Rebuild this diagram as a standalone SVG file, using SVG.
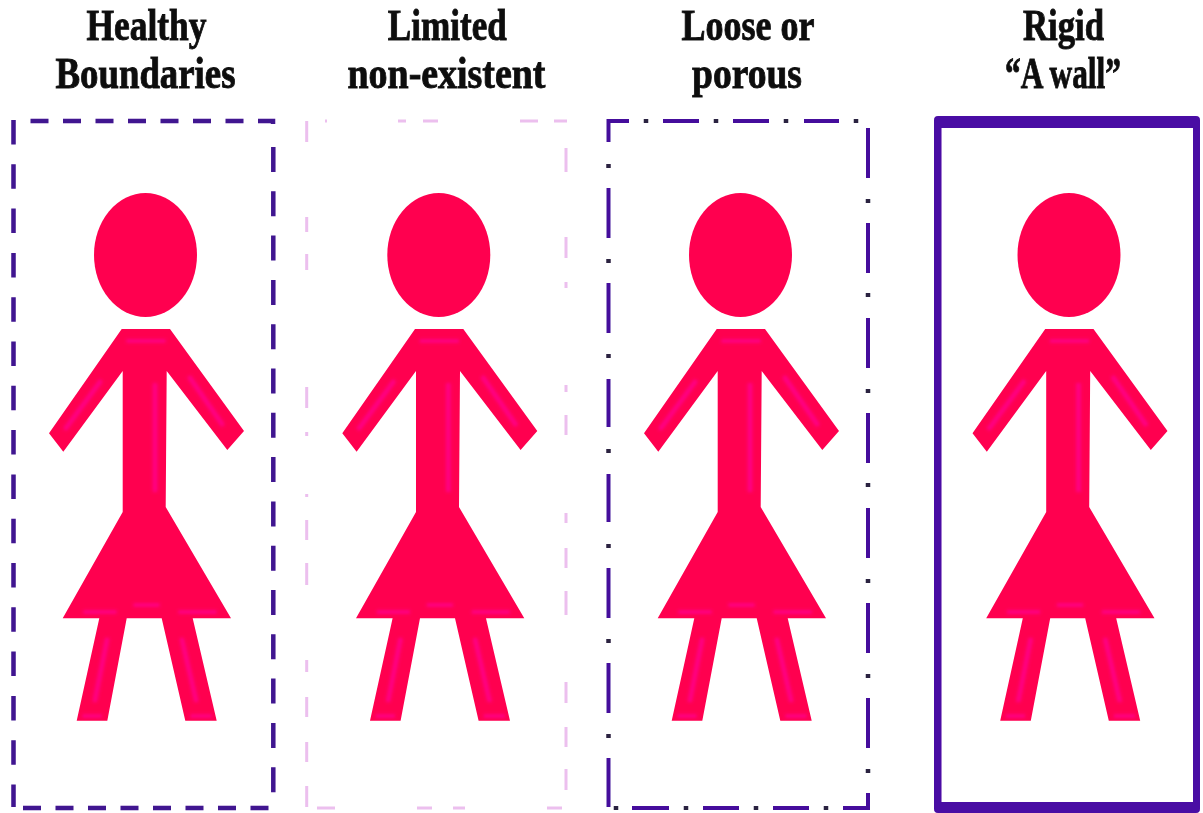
<svg xmlns="http://www.w3.org/2000/svg" width="1203" height="813" viewBox="0 0 1203 813">
<style>
.t{font-family:"Liberation Serif",serif;font-weight:bold;font-size:45px;fill:#111;stroke:#111;stroke-width:.9}
.p{fill:none;stroke:#3f1690;stroke-width:4.500}
.g{fill:none;stroke:#ecbfee;stroke-width:3}
.w{fill:none;stroke:#45109c;stroke-width:4}
.h{fill:none;stroke:#ff0aa0;stroke-opacity:.6;stroke-linecap:round}
</style>
<defs>
<filter id="soft" x="-5%" y="-5%" width="110%" height="110%"><feGaussianBlur stdDeviation="0.6"/></filter>
<filter id="soft2" x="-5%" y="-5%" width="110%" height="110%"><feGaussianBlur stdDeviation="1.4"/></filter>
<g id="fig">
<ellipse cx="145.500" cy="255" rx="51.500" ry="62" fill="#ff0050"/>
<path fill="#ff0050" d="M121.700 329H170L244 431L227.300 450L166.700 371L165.700 507L231 618.300H192.700L216.700 720.700H185.300L161.700 618.300H126.700L107.300 720.700H76.700L99.300 618.300H62.700L122.700 512V371L63.300 451.700L49 433.300Z"/>
<g filter="url(#soft2)">
<path class="h" stroke-width="4" d="M128 341H164M85 612H115M135 605H158M180 612H215M84 716H100M192 716H210"/>
<path class="h" stroke-width="5" d="M66 428L100 382M222 424L190 378M155 385V490M107 640L95 700M182 640L196 700"/>
</g>
</g>
</defs>
<g id="healthy" filter="url(#soft)">
<path class="p" d="M13.500 120V807" stroke-dasharray="24.500 19.800"/>
<path class="p" d="M30.500 121H273V127" stroke-dasharray="18 14.500"/>
<path class="p" d="M273.300 147V800" stroke-dasharray="25 19.300"/>
<path class="p" d="M23 808H272" stroke-dasharray="18 14.500"/>
<use href="#fig"/>
<text class="t" x="146.500" y="40" text-anchor="middle" textLength="120" lengthAdjust="spacingAndGlyphs">Healthy</text>
<text class="t" x="145.500" y="88" text-anchor="middle" textLength="180" lengthAdjust="spacingAndGlyphs">Boundaries</text>
</g>
<g id="limited" filter="url(#soft)">
<path class="g" d="M306.700 121V142M306.700 217V232M306.700 254V270M306.700 387V408M306.700 520V540M306.700 563V585M306.700 697V717M306.700 742V762M306.700 786V807"/>
<path class="g" stroke-width="2" d="M306.700 432V436M306.700 494V497M306.700 660V672"/>
<path class="g" stroke-width="2" d="M566 148V172M566 237V258M566 282V288M566 385V392M566 415V435M566 513V523M566 548V568M566 591V615M566 682V703M566 727V747M566 769V790"/>
<path class="g" stroke-width="3" d="M325 121H327M398 121H406M423 121H438M520 121H538M554 121H567M317 808H335M417 808H432M453 808H465M547 808H562"/>
<use href="#fig" x="293.300"/>
<text class="t" x="447.300" y="40" text-anchor="middle" textLength="119" lengthAdjust="spacingAndGlyphs">Limited</text>
<text class="t" x="446.500" y="88" text-anchor="middle" textLength="198" lengthAdjust="spacingAndGlyphs">non-existent</text>
</g>
<g id="loose" filter="url(#soft)">
<path class="w" d="M608.500 142V121H629M663 121H699M733 121H769M804 121H839M868 128V178M868 223V273M868 318V368M868 413V463M868 508V558M868 603V653M868 698V748M868 793V808H843M809 808H773M739 808H703M669 808H632M608.500 807V758M608.500 713V663M608.500 618V568M608.500 522V474M608.500 427V379M608.500 333V283M608.500 238V188"/>
<path d="M646 119V123M716 119V123M786 119V123M856 119V123M868 199V203M868 293V297M868 389V393M868 483V487M868 579V583M868 674V678M868 769V773M826 806V810M756 806V810M686 806V810M616 806V810M608.500 164V168M608.500 259V263M608.500 354V358M608.500 449V453M608.500 544V548M608.500 639V643M608.500 734V738" stroke="#2b2440" stroke-width="4.500" fill="none"/>
<use href="#fig" x="595"/>
<text class="t" x="748" y="40" text-anchor="middle" textLength="133" lengthAdjust="spacingAndGlyphs">Loose or</text>
<text class="t" x="747" y="88" text-anchor="middle" textLength="110" lengthAdjust="spacingAndGlyphs">porous</text>
</g>
<g id="rigid" filter="url(#soft)">
<path d="M938 116H1196Q1200 116 1200 120V809Q1200 813 1196 813H938Q934 813 934 809V120Q934 116 938 116ZM941.500 128V802H1193V128Z" fill="#4a08a4" fill-rule="evenodd"/>
<use href="#fig" x="923.500"/>
<text class="t" x="1063.500" y="40" text-anchor="middle" textLength="81" lengthAdjust="spacingAndGlyphs">Rigid</text>
<text class="t" x="1063" y="88" text-anchor="middle" textLength="116" lengthAdjust="spacingAndGlyphs">“A wall”</text>
</g>
</svg>
